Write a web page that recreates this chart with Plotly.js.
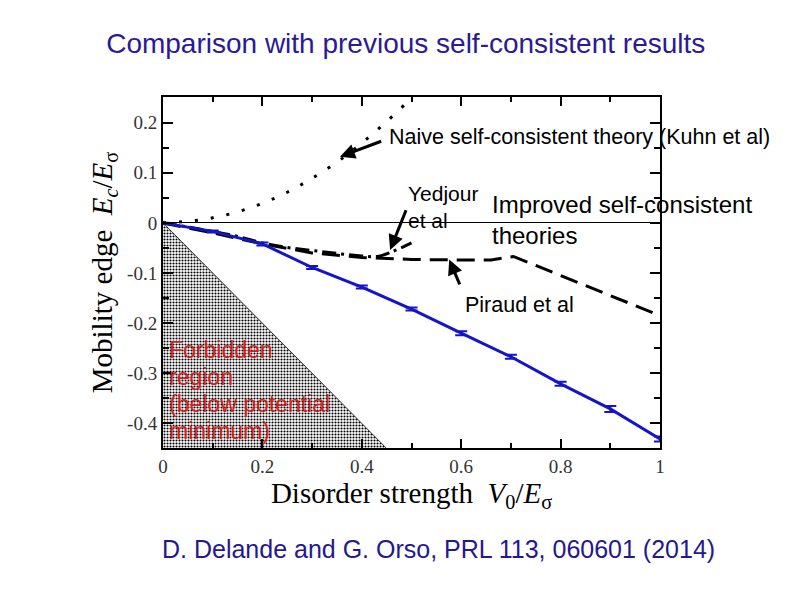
<!DOCTYPE html>
<html>
<head>
<meta charset="utf-8">
<script src="https://cdn.plot.ly/plotly-3.0.1.min.js"></script>
<style>html,body{margin:0;padding:0;background:#fff;}#chart{width:794px;height:595px;}</style>
</head>
<body>
<div id="chart"></div>
<script>
// ---- data ----
const disorder = [0, 0.1, 0.2, 0.3, 0.4, 0.5, 0.6, 0.7, 0.8, 0.9, 1.0];
const mobilityEdge = [0, -0.017, -0.042, -0.089, -0.128, -0.172, -0.220, -0.267, -0.321, -0.371, -0.431];
const mobilityErr = [null, 0.002, 0.003, 0.003, 0.003, 0.003, 0.004, 0.004, 0.004, 0.006, 0.005];

const naiveX = [0, 0.05, 0.1, 0.15, 0.2, 0.25, 0.3, 0.35, 0.4, 0.45, 0.5];
const naiveY = [0, 0.003, 0.01, 0.022, 0.039, 0.061, 0.089, 0.121, 0.159, 0.202, 0.249];

const yedjourX = [0, 0.05, 0.1, 0.15, 0.2, 0.25, 0.3, 0.35, 0.4, 0.43, 0.46, 0.5];
const yedjourY = [0, -0.008, -0.017, -0.027, -0.04, -0.049, -0.055, -0.061, -0.066, -0.067, -0.058, -0.04];

const piraudX = [0, 0.1, 0.2, 0.3, 0.4, 0.5, 0.6, 0.66, 0.705, 0.8, 0.9, 1.0];
const piraudY = [0, -0.02, -0.042, -0.060, -0.069, -0.073, -0.074, -0.074, -0.067, -0.105, -0.145, -0.185];

// forbidden region: energies below the potential minimum (E < -V0)
const forbiddenX = [0, 0.46, 0];
const forbiddenY = [0, -0.46, -0.46];

const xTickVals = [0, 0.2, 0.4, 0.6, 0.8, 1];
const xTickText = ['0', '0.2', '0.4', '0.6', '0.8', '1'];
const yTickVals = [-0.4, -0.3, -0.2, -0.1, 0, 0.1, 0.2];
const yTickText = ['-0.4', '-0.3', '-0.2', '-0.1', '0', '0.1', '0.2'];

const titleText = 'Comparison with previous self-consistent results';
const citationText = 'D. Delande and G. Orso, PRL 113, 060601 (2014)';
const forbiddenLines = ['Forbidden', 'region', '(below potential', 'minimum)'];

// ---- traces ----
const traces = [
  {
    x: forbiddenX, y: forbiddenY, type: 'scatter', mode: 'lines',
    fill: 'toself', fillcolor: 'rgba(0,0,0,0)',
    fillpattern: {shape: '.', fgcolor: '#000', bgcolor: '#fff', size: 3, solidity: 0.38},
    line: {color: '#000', width: 0.8}, hoverinfo: 'skip', showlegend: false
  },
  {
    x: naiveX, y: naiveY, type: 'scatter', mode: 'lines',
    line: {color: '#000', width: 3, dash: '3px,13px', shape: 'spline'}, showlegend: false
  },
  {
    x: yedjourX, y: yedjourY, type: 'scatter', mode: 'lines',
    line: {color: '#000', width: 3, dash: '14px,5px,3px,5px', shape: 'spline'}, showlegend: false
  },
  {
    x: piraudX, y: piraudY, type: 'scatter', mode: 'lines',
    line: {color: '#000', width: 3, dash: '18px,9px'}, showlegend: false
  },
  {
    x: disorder, y: mobilityEdge, type: 'scatter', mode: 'lines',
    line: {color: '#1414c8', width: 3},
    error_y: {type: 'data', array: mobilityErr, visible: true, color: '#1414c8', thickness: 2, width: 6},
    showlegend: false
  }
];

const sans = 'Liberation Sans, Arial, sans-serif';
const serif = 'Liberation Serif, Times New Roman, serif';
const axisFont = {family: serif, size: 19, color: '#333'};

const annotations = [
  {xref: 'x', yref: 'y', x: 0.451, y: 0.171, xanchor: 'left', yanchor: 'middle', showarrow: false,
   text: 'Naive self-consistent theory (Kuhn et al)', font: {family: sans, size: 21.5, color: '#000'}},
  {xref: 'x', yref: 'y', x: 0.356, y: 0.132, axref: 'x', ayref: 'y', ax: 0.445, ay: 0.165,
   showarrow: true, arrowhead: 2, arrowsize: 1, arrowwidth: 3, arrowcolor: '#000', text: ' '},
  {xref: 'x', yref: 'y', x: 0.489, y: 0.032, xanchor: 'left', yanchor: 'middle', showarrow: false, align: 'left',
   text: 'Yedjour<br>et al', font: {family: sans, size: 21, color: '#000'}},
  {xref: 'x', yref: 'y', x: 0.457, y: -0.054, axref: 'x', ayref: 'y', ax: 0.495, ay: 0.04,
   showarrow: true, arrowhead: 2, arrowsize: 1, arrowwidth: 3, arrowcolor: '#000', text: ' '},
  {xref: 'x', yref: 'y', x: 0.658, y: 0.006, xanchor: 'left', yanchor: 'middle', showarrow: false, align: 'left',
   text: 'Improved self-consistent<br>theories', font: {family: sans, size: 24, color: '#000'}},
  {xref: 'x', yref: 'y', x: 0.604, y: -0.163, xanchor: 'left', yanchor: 'middle', showarrow: false,
   text: 'Piraud et al', font: {family: sans, size: 21.5, color: '#000'}},
  {xref: 'x', yref: 'y', x: 0.576, y: -0.073, axref: 'x', ayref: 'y', ax: 0.603, ay: -0.137,
   showarrow: true, arrowhead: 2, arrowsize: 1, arrowwidth: 3, arrowcolor: '#000', text: ' '}
];

// Forbidden region label lines
const forbiddenY0 = -0.254;
forbiddenLines.forEach((t, i) => {
  annotations.push({xref: 'x', yref: 'y', x: 0.008, y: forbiddenY0 - i * 0.054, xanchor: 'left', yanchor: 'middle',
    showarrow: false, text: t, font: {family: sans, size: 23, color: '#d41e1e'}});
});

// Citation at bottom
annotations.push({xref: 'paper', yref: 'paper', x: 0.5, y: -0.288, xanchor: 'center', yanchor: 'middle',
  xshift: 27, showarrow: false, text: citationText,
  font: {family: sans, size: 25, color: '#241890'}});

const layout = {
  width: 794, height: 595,
  margin: {l: 163, r: 134, t: 97, b: 147},
  paper_bgcolor: '#fff', plot_bgcolor: '#fff',
  title: {text: titleText, x: 0.511, xanchor: 'center', y: 0.928, yanchor: 'middle',
          font: {family: sans, size: 28, color: '#2a1a96'}},
  xaxis: {
    range: [0, 1], tickmode: 'array', tickvals: xTickVals, ticktext: xTickText,
    ticks: 'inside', ticklen: 9, tickwidth: 2, tickcolor: '#000',
    minor: {dtick: 0.1, tick0: 0, ticks: 'inside', ticklen: 5, tickwidth: 2, tickcolor: '#000'},
    showline: true, linecolor: '#000', linewidth: 2, mirror: 'allticks',
    showgrid: false, zeroline: false, tickfont: axisFont,
    title: {text: 'Disorder strength  <i>V</i><sub>0</sub>/<i>E</i><sub>σ</sub>', standoff: 0,
            font: {family: serif, size: 29, color: '#000'}}
  },
  yaxis: {
    range: [-0.449, 0.251], tickmode: 'array', tickvals: yTickVals, ticktext: yTickText,
    ticks: 'inside', ticklen: 10, tickwidth: 2, tickcolor: '#000',
    minor: {dtick: 0.05, tick0: 0, ticks: 'inside', ticklen: 6, tickwidth: 2, tickcolor: '#000'},
    showline: true, linecolor: '#000', linewidth: 2, mirror: 'allticks',
    showgrid: false, zeroline: true, zerolinecolor: '#000', zerolinewidth: 1, tickfont: axisFont,
    title: {text: 'Mobility edge  <i>E</i><sub><i>c</i></sub>/<i>E</i><sub>σ</sub>', standoff: 6,
            font: {family: serif, size: 29, color: '#000'}}
  },
  annotations: annotations,
  showlegend: false
};

Plotly.newPlot('chart', traces, layout, {displayModeBar: false, staticPlot: true});
</script>
</body>
</html>
